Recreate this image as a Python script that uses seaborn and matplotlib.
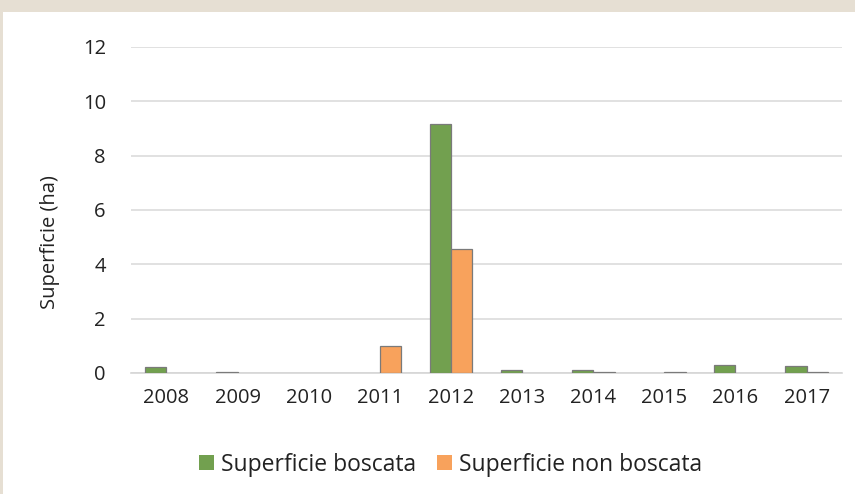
import matplotlib
matplotlib.use("Agg")
import matplotlib.pyplot as plt
import pandas as pd
import seaborn as sns
from matplotlib.patches import Rectangle

years = ["2008", "2009", "2010", "2011", "2012", "2013", "2014", "2015", "2016", "2017"]
boscata = [0.23, 0.05, 0.0, 0.0, 9.15, 0.1, 0.1, 0.0, 0.3, 0.25]
non_boscata = [0.0, 0.0, 0.0, 1.0, 4.55, 0.0, 0.05, 0.05, 0.0, 0.05]
series = ["Superficie boscata", "Superficie non boscata"]
colors = ["#72a04f", "#f8a25c"]

df = pd.DataFrame({
    "anno": years * 2,
    "ha": boscata + non_boscata,
    "serie": [series[0]] * len(years) + [series[1]] * len(years),
})

sns.set_style("white")
plt.rcParams["font.family"] = ["Open Sans", "DejaVu Sans"]

fig = plt.figure(figsize=(8.55, 4.94), dpi=100, facecolor="#e6dfd3")
fig.add_artist(Rectangle((3 / 855, 0), 1, 1 - 12 / 494, transform=fig.transFigure,
                         facecolor="white", edgecolor="none", zorder=-10))
ax = fig.add_axes([0.153, 0.245, 0.832, 0.66])
ax.set_zorder(1)
ax.set_facecolor("white")

sns.barplot(data=df, x="anno", y="ha", hue="serie", palette=colors, width=0.6,
            saturation=1, edgecolor="#7a7a7a", linewidth=0.9, ax=ax, zorder=3)
# empty bars: no outline
for p in ax.patches:
    if p.get_height() == 0:
        p.set_linewidth(0)

ax.set_ylim(0, 12)
ax.set_yticks(range(0, 13, 2))
ax.yaxis.grid(True, color="#dcdcdc", linewidth=1.2, zorder=0)
ax.set_axisbelow(True)
for s in ["top", "right", "left"]:
    ax.spines[s].set_visible(False)
ax.spines["bottom"].set_color("#d6d6d6")
ax.spines["bottom"].set_linewidth(1.2)
ax.tick_params(axis="both", length=0, labelsize=14.5, colors="#222222")
ax.tick_params(axis="y", pad=18)
ax.tick_params(axis="x", pad=11)
ax.set_xlabel("")
ax.set_ylabel("Superficie (ha)", fontsize=14.5, color="#222222")
ax.yaxis.set_label_coords(-0.10, 0.40)

leg = fig.legend(*ax.get_legend_handles_labels(), loc="center",
                 bbox_to_anchor=(0.527, 0.059), ncol=2, frameon=False,
                 fontsize=16.5, handlelength=0.65, handleheight=0.65, handletextpad=0.3,
                 columnspacing=0.9)
ax.get_legend().remove()
for t in leg.get_texts():
    t.set_color("#222222")

fig.savefig("out.png", dpi=100, facecolor=fig.get_facecolor())
